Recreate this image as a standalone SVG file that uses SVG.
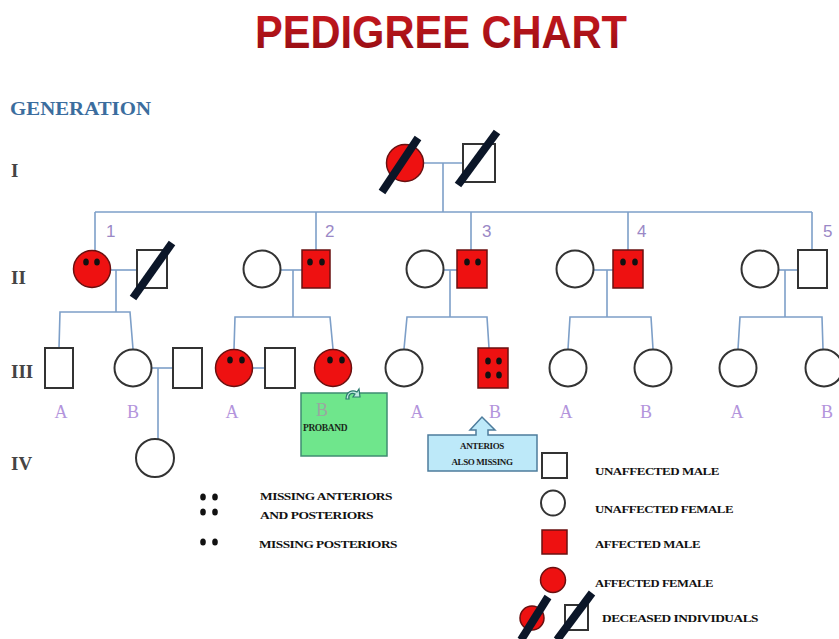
<svg xmlns="http://www.w3.org/2000/svg" width="839" height="639" viewBox="0 0 839 639">
<defs>
<linearGradient id="tg" x1="0" y1="0" x2="0" y2="1">
<stop offset="0" stop-color="#d01a20"/>
<stop offset="1" stop-color="#8e0c12"/>
</linearGradient>
<style>
.ln{stroke:#7d9fc8;stroke-width:1.6;fill:none}
.m{fill:#fff;stroke:#333;stroke-width:2}
.a{fill:#ee1111;stroke:#6a1010;stroke-width:1.5}
.f{fill:#fff;stroke:#333;stroke-width:2}
.sl{stroke:#0b1628;stroke-width:8;stroke-linecap:butt}
.d{fill:#111}
.num{font-family:"Liberation Sans",Arial,sans-serif;font-size:17px;fill:#9a88c6}
.ab{font-family:"Liberation Serif","Times New Roman",serif;font-size:18px;fill:#b394dc}
.rn{font-family:"Liberation Serif","Times New Roman",serif;font-size:19px;font-weight:bold;fill:#444}
.lg{font-family:"Liberation Serif","Times New Roman",serif;font-size:11px;font-weight:bold;fill:#111;letter-spacing:-0.4px}
</style>
</defs>
<rect width="839" height="639" fill="#fff"/>
<text x="441" y="48" text-anchor="middle" font-family="Liberation Sans,Arial,sans-serif" font-weight="bold" font-size="46" fill="url(#tg)" textLength="372" lengthAdjust="spacingAndGlyphs">PEDIGREE CHART</text>
<text x="10" y="115" font-family="Liberation Serif,Times New Roman,serif" font-weight="bold" font-size="19" fill="#3b6d9e" textLength="141" lengthAdjust="spacingAndGlyphs">GENERATION</text>
<text class="rn" x="11" y="177">I</text>
<text class="rn" x="11" y="284">II</text>
<text class="rn" x="11" y="378">III</text>
<text class="rn" x="11" y="470">IV</text>

<g id="connectors">
<line class="ln" x1="423" y1="163" x2="463" y2="163"/>
<line class="ln" x1="443" y1="163" x2="443" y2="212"/>
<line class="ln" x1="95" y1="212" x2="812" y2="212"/>
<line class="ln" x1="95" y1="212" x2="95" y2="252"/>
<line class="ln" x1="316" y1="212" x2="316" y2="250"/>
<line class="ln" x1="471" y1="212" x2="471" y2="250"/>
<line class="ln" x1="628" y1="212" x2="628" y2="250"/>
<line class="ln" x1="812" y1="212" x2="812" y2="257"/>
<line class="ln" x1="110" y1="270" x2="137" y2="270"/>
<line class="ln" x1="280" y1="270" x2="302" y2="270"/>
<line class="ln" x1="443" y1="270" x2="457" y2="270"/>
<line class="ln" x1="593" y1="270" x2="613" y2="270"/>
<line class="ln" x1="778" y1="270" x2="798" y2="270"/>
<line class="ln" x1="116" y1="270" x2="116" y2="312"/>
<line class="ln" x1="293" y1="270" x2="293" y2="317"/>
<line class="ln" x1="450" y1="270" x2="450" y2="317"/>
<line class="ln" x1="607" y1="270" x2="607" y2="317"/>
<line class="ln" x1="785" y1="270" x2="785" y2="317"/>
<polyline class="ln" points="59,348 60,312 130,312 133,349"/>
<polyline class="ln" points="234,349 235,317 330,317 333,349"/>
<polyline class="ln" points="404,349 407,317 487,317 489,348"/>
<polyline class="ln" points="568,349 570,317 651,317 653,349"/>
<polyline class="ln" points="738,349 740,317 822,317 823,349"/>
<line class="ln" x1="152" y1="368" x2="173" y2="368"/>
<line class="ln" x1="158" y1="368" x2="158" y2="439"/>
<line class="ln" x1="252" y1="368" x2="265" y2="368"/>
</g>

<g id="I-1"><circle class="a" cx="405" cy="163" r="18.5"/><line class="sl" x1="382" y1="192" x2="418" y2="138"/></g>
<g id="I-2"><rect class="m" x="463" y="144" width="32" height="38"/><line class="sl" x1="458" y1="185" x2="497" y2="132"/></g>

<text class="num" x="106" y="237">1</text>
<text class="num" x="325" y="237">2</text>
<text class="num" x="482" y="237">3</text>
<text class="num" x="637" y="237">4</text>
<text class="num" x="823" y="237">5</text>

<g id="II-1a"><circle class="a" cx="92" cy="269" r="18.5"/><ellipse class="d" cx="86" cy="262" rx="2.8" ry="3.6"/><ellipse class="d" cx="97" cy="262" rx="2.8" ry="3.6"/></g>
<g id="II-1b"><rect class="m" x="137" y="250" width="30" height="38"/><line class="sl" x1="133" y1="298" x2="172" y2="243"/></g>
<g id="II-2a"><circle class="f" cx="262" cy="269" r="18.5"/></g>
<g id="II-2b"><rect class="a" x="302" y="250" width="28" height="38"/><ellipse class="d" cx="310" cy="262" rx="2.8" ry="3.6"/><ellipse class="d" cx="322" cy="262" rx="2.8" ry="3.6"/></g>
<g id="II-3a"><circle class="f" cx="425" cy="269" r="18.5"/></g>
<g id="II-3b"><rect class="a" x="457" y="250" width="30" height="38"/><ellipse class="d" cx="467" cy="262" rx="2.8" ry="3.6"/><ellipse class="d" cx="478" cy="262" rx="2.8" ry="3.6"/></g>
<g id="II-4a"><circle class="f" cx="575" cy="269" r="18.5"/></g>
<g id="II-4b"><rect class="a" x="613" y="250" width="30" height="38"/><ellipse class="d" cx="623" cy="262" rx="2.8" ry="3.6"/><ellipse class="d" cx="635" cy="262" rx="2.8" ry="3.6"/></g>
<g id="II-5a"><circle class="f" cx="760" cy="269" r="18.5"/></g>
<g id="II-5b"><rect class="m" x="798" y="250" width="29" height="38"/></g>

<g id="III-1A"><rect class="m" x="45" y="348" width="28" height="40"/></g>
<g id="III-1B"><circle class="f" cx="133" cy="368" r="18.5"/></g>
<g id="III-1Bsp"><rect class="m" x="173" y="348" width="29" height="40"/></g>
<g id="III-2A"><circle class="a" cx="234" cy="368" r="18.5"/><ellipse class="d" cx="230" cy="360" rx="2.8" ry="3.6"/><ellipse class="d" cx="242" cy="360" rx="2.8" ry="3.6"/></g>
<g id="III-2Asp"><rect class="m" x="265" y="348" width="30" height="40"/></g>
<g id="III-2B"><circle class="a" cx="333" cy="368" r="18.5"/><ellipse class="d" cx="330" cy="360" rx="2.8" ry="3.6"/><ellipse class="d" cx="342" cy="360" rx="2.8" ry="3.6"/></g>
<g id="III-3A"><circle class="f" cx="404" cy="368" r="18.5"/></g>
<g id="III-3B"><rect class="a" x="478" y="348" width="30" height="40"/><ellipse class="d" cx="488" cy="361" rx="2.8" ry="3.6"/><ellipse class="d" cx="499" cy="361" rx="2.8" ry="3.6"/><ellipse class="d" cx="488" cy="375" rx="2.8" ry="3.6"/><ellipse class="d" cx="499" cy="375" rx="2.8" ry="3.6"/></g>
<g id="III-4A"><circle class="f" cx="568" cy="368" r="18.5"/></g>
<g id="III-4B"><circle class="f" cx="653" cy="368" r="18.5"/></g>
<g id="III-5A"><circle class="f" cx="738" cy="368" r="18.5"/></g>
<g id="III-5B"><circle class="f" cx="824" cy="368" r="18.5"/></g>

<g id="IV-1"><circle class="f" cx="155" cy="458" r="19"/></g>

<text class="ab" x="61" y="418" text-anchor="middle">A</text>
<text class="ab" x="133" y="418" text-anchor="middle">B</text>
<text class="ab" x="232" y="418" text-anchor="middle">A</text>
<text class="ab" x="417" y="418" text-anchor="middle">A</text>
<text class="ab" x="495" y="418" text-anchor="middle">B</text>
<text class="ab" x="566" y="418" text-anchor="middle">A</text>
<text class="ab" x="646" y="418" text-anchor="middle">B</text>
<text class="ab" x="737" y="418" text-anchor="middle">A</text>
<text class="ab" x="827" y="418" text-anchor="middle">B</text>

<g id="proband">
<rect x="301" y="393" width="86" height="63" fill="#6fe68c" stroke="#3f8d72" stroke-width="1.5"/>
<text x="322" y="416" text-anchor="middle" font-family="Liberation Serif,serif" font-size="18" fill="#9aa8a0">B</text>
<text x="303" y="431" font-family="Liberation Serif,serif" font-weight="bold" font-size="9.5" fill="#1a2a1a" letter-spacing="-0.4">PROBAND</text>
<path d="M346,399 C346,392 352,389 357,392 L359,389 L360,397 L353,397 L355,394 C351,392 348,395 349,399 Z" fill="#bfe8e0" stroke="#2c7a6e" stroke-width="1.2"/>
</g>

<g id="anterios">
<path d="M428,435 H476 V430 H470 L482,417 L495,430 H488 V435 H537 V471 H428 Z" fill="#bde9f9" stroke="#4d7c9c" stroke-width="1.5"/>
<text x="482" y="449" text-anchor="middle" font-family="Liberation Serif,serif" font-weight="bold" font-size="9" fill="#1a1a1a" letter-spacing="-0.4">ANTERIOS</text>
<text x="482" y="465" text-anchor="middle" font-family="Liberation Serif,serif" font-weight="bold" font-size="9" fill="#1a1a1a" letter-spacing="-0.4">ALSO MISSING</text>
</g>

<g id="legend-dots">
<ellipse class="d" cx="203" cy="497" rx="2.8" ry="3.6"/><ellipse class="d" cx="215" cy="497" rx="2.8" ry="3.6"/>
<ellipse class="d" cx="203" cy="512" rx="2.8" ry="3.6"/><ellipse class="d" cx="215" cy="512" rx="2.8" ry="3.6"/>
<ellipse class="d" cx="203" cy="542" rx="2.8" ry="3.6"/><ellipse class="d" cx="215" cy="542" rx="2.8" ry="3.6"/>
<text class="lg" x="260" y="500" textLength="132" lengthAdjust="spacingAndGlyphs">MISSING ANTERIORS</text>
<text class="lg" x="260" y="519" textLength="113" lengthAdjust="spacingAndGlyphs">AND POSTERIORS</text>
<text class="lg" x="259" y="548" textLength="138" lengthAdjust="spacingAndGlyphs">MISSING POSTERIORS</text>
</g>

<g id="legend">
<rect class="m" x="542" y="453" width="25" height="25"/>
<text class="lg" x="595" y="475" textLength="124" lengthAdjust="spacingAndGlyphs">UNAFFECTED MALE</text>
<ellipse class="f" cx="553" cy="503" rx="12" ry="12.5"/>
<text class="lg" x="595" y="513" textLength="138" lengthAdjust="spacingAndGlyphs">UNAFFECTED FEMALE</text>
<rect class="a" x="542" y="530" width="25" height="24"/>
<text class="lg" x="595" y="548" textLength="105" lengthAdjust="spacingAndGlyphs">AFFECTED MALE</text>
<circle class="a" cx="553" cy="580" r="12.5"/>
<text class="lg" x="595" y="587" textLength="118" lengthAdjust="spacingAndGlyphs">AFFECTED FEMALE</text>
<circle class="a" cx="532" cy="618" r="12"/>
<line class="sl" x1="521" y1="640" x2="548" y2="597" stroke-width="7"/>
<rect class="m" x="565" y="605" width="23" height="25"/>
<line class="sl" x1="557" y1="640" x2="592" y2="593" stroke-width="7"/>
<text class="lg" x="602" y="622" textLength="156" lengthAdjust="spacingAndGlyphs">DECEASED INDIVIDUALS</text>
</g>
</svg>
